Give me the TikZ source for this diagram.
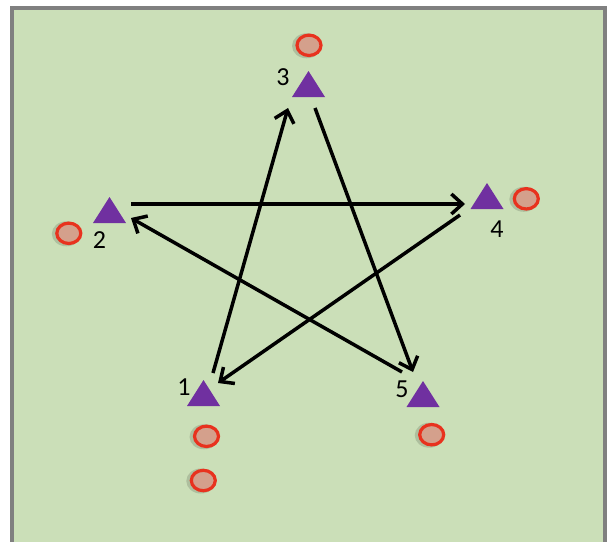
\documentclass[tikz,border=0pt]{standalone}
\usepackage{fontspec}
\setmainfont{Carlito}
\usetikzlibrary{arrows.meta}
\definecolor{bggreen}{RGB}{203,223,184}
\definecolor{framegray}{RGB}{128,128,128}
\definecolor{tripurple}{RGB}{112,48,160}
\definecolor{conefill}{RGB}{212,160,140}
\definecolor{conered}{RGB}{232,50,30}
\tikzset{
  tri/.style={fill=tripurple},
  cone/.style={fill=conefill, draw=conered, line width=3.2pt},
  coneshadow/.style={fill=black, opacity=0.14},
  lbl/.style={font=\fontsize{26}{26}\selectfont, inner sep=0pt, text=black},
  run/.style={draw=black, line width=3.5pt, -{Straight Barb[length=11pt,width=20pt]}}
}
\begin{document}
\begin{tikzpicture}[x=1pt,y=-1pt]
\useasboundingbox (0,0) rectangle (610,541);
\fill[white] (0,0) rectangle (610,541);
\draw[fill=bggreen, draw=framegray, line width=4pt] (12,8) rectangle (605,560);

% triangles (base midpoint)
\foreach \x/\y in {308.5/97, 109.5/223, 487/209, 203.5/406, 423/407}{
  \fill[tri] (\x,\y) -- ++(-16.5,0) -- ++(16.5,-26) -- ++(16.5,26) -- cycle;
}

% cones
\foreach \x/\y in {309/45.3, 68.8/233.3, 526.3/198.8, 206.5/436.3, 203.3/480.5, 431.7/434.7}{
  \fill[coneshadow] (\x-2.5,\y+0.5) ellipse [x radius=14.5, y radius=12.5];
  \path[cone] (\x,\y) ellipse [x radius=12, y radius=10.2];
}

% labels
\node[lbl] (l3) at (283,77.5) {3};
\node[lbl] (l2) at (99.5,240) {2};
\node[lbl] (l4) at (497,229) {4};
\node[lbl] (l1) at (184,387) {1};
\node[lbl] (l5) at (402,389) {5};

% arrow end points
\coordinate (a1s) at (213,373);
\coordinate (a1e) at (288,108);
\coordinate (a3s) at (315,108);
\coordinate (a3e) at (413,372);
\coordinate (a2s) at (131,204);
\coordinate (a2e) at (465,204);
\coordinate (a4s) at (460,215);
\coordinate (a4e) at (218,383);
\coordinate (a5s) at (402,372);
\coordinate (a5e) at (131,218);

\draw[run] (a1s) -- (a1e);
\draw[run] (a3s) -- (a3e);
\draw[run] (a2s) -- (a2e);
\draw[run] (a4s) -- (a4e);
\draw[run] (a5s) -- (a5e);
\end{tikzpicture}
\end{document}
